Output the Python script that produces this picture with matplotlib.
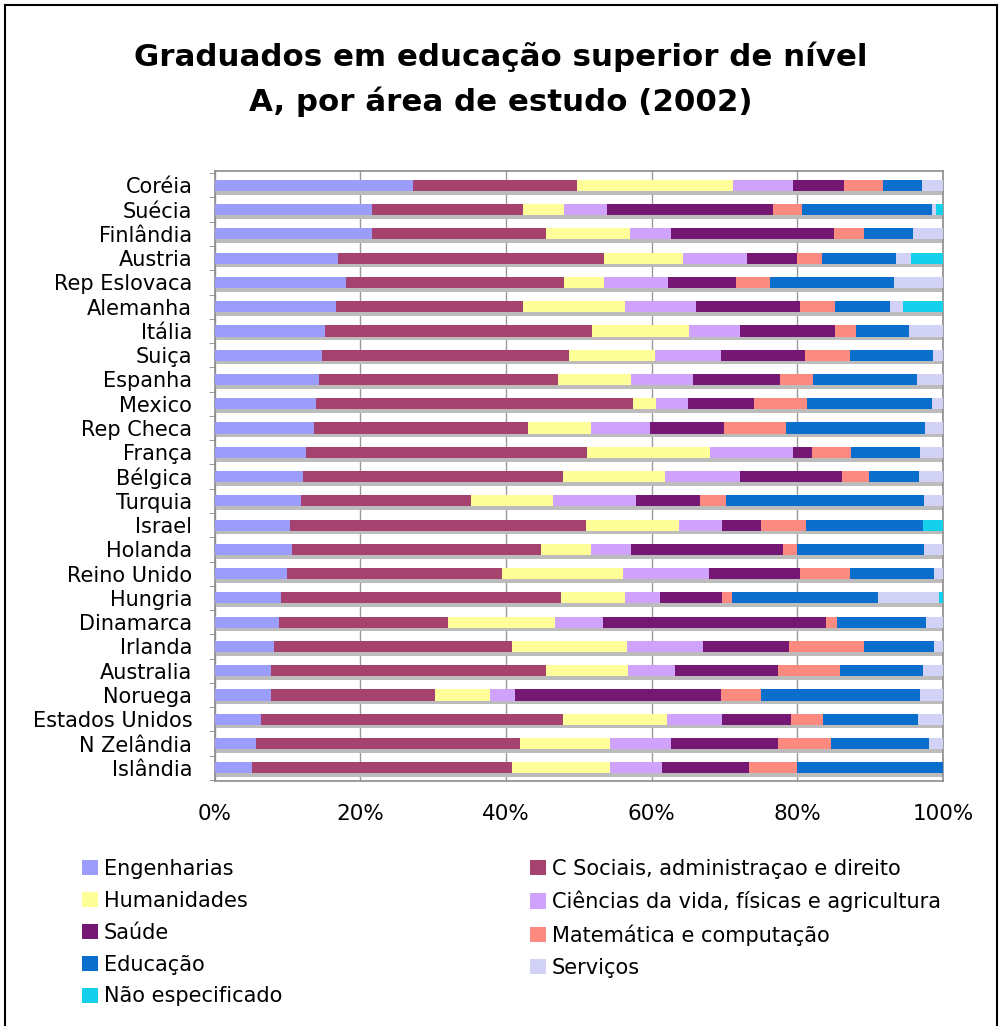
import numpy as np
import matplotlib
matplotlib.use("Agg")
import matplotlib.pyplot as plt
from matplotlib.patches import Patch
from matplotlib.lines import Line2D

countries = ["Coréia", "Suécia", "Finlândia", "Austria", "Rep Eslovaca", "Alemanha",
             "Itália", "Suiça", "Espanha", "Mexico", "Rep Checa", "França", "Bélgica",
             "Turquia", "Israel", "Holanda", "Reino Unido", "Hungria", "Dinamarca",
             "Irlanda", "Australia", "Noruega", "Estados Unidos", "N Zelândia", "Islândia"]

categories = ["Engenharias", "C Sociais, administraçao e direito", "Humanidades",
              "Ciências da vida, físicas e agricultura", "Saúde", "Matemática e computação",
              "Educação", "Serviços", "Não especificado"]

engenharias = [27.3, 21.6, 21.6, 17.0, 18.0, 16.7, 15.2, 14.7, 14.3, 13.9, 13.6, 12.6, 12.1,
               11.9, 10.4, 10.7, 10.0, 9.1, 8.9, 8.2, 7.8, 7.8, 6.4, 5.7, 5.2]
c_sociais = [22.4, 20.7, 23.9, 36.5, 30.0, 25.6, 36.6, 33.9, 32.8, 43.6, 29.5, 38.6, 35.7,
             23.3, 40.6, 34.1, 29.5, 38.5, 23.2, 32.6, 37.7, 22.5, 41.4, 36.3, 35.6]
humanidades = [21.5, 5.7, 11.5, 10.8, 5.5, 14.1, 13.3, 11.8, 10.1, 3.1, 8.6, 16.8, 14.0,
               11.3, 12.8, 6.9, 16.6, 8.7, 14.6, 15.8, 11.2, 7.5, 14.3, 12.3, 13.5]
ciencias = [8.2, 5.9, 5.7, 8.8, 8.7, 9.7, 7.0, 9.1, 8.5, 4.4, 8.1, 11.4, 10.3,
            11.4, 5.9, 5.5, 11.8, 4.9, 6.6, 10.5, 6.5, 3.5, 7.6, 8.4, 7.1]
saude = [7.0, 22.7, 22.3, 6.9, 9.4, 14.3, 13.1, 11.5, 11.9, 9.1, 10.2, 2.6, 14.0,
         8.7, 5.3, 20.9, 12.5, 8.5, 30.6, 11.8, 14.2, 28.2, 9.4, 14.6, 12.0]
matematica = [5.3, 4.1, 4.1, 3.4, 4.6, 4.8, 2.8, 6.3, 4.5, 7.2, 8.5, 5.4, 3.8,
              3.6, 6.2, 1.9, 6.9, 1.4, 1.6, 10.2, 8.5, 5.5, 4.4, 7.3, 6.5]
educacao = [5.4, 17.8, 6.8, 10.2, 17.1, 7.5, 7.4, 11.3, 14.3, 17.2, 19.0, 9.5, 6.8,
            27.2, 16.0, 17.4, 11.4, 20.0, 12.2, 9.7, 11.3, 21.8, 13.1, 13.5, 20.1]
servicos = [2.9, 0.5, 4.1, 2.0, 6.7, 1.8, 4.6, 1.4, 3.6, 1.5, 2.5, 3.1, 3.3,
            2.6, 0.0, 2.6, 1.3, 8.4, 2.3, 1.2, 2.8, 3.2, 3.4, 1.9, 0.0]
nao_especificado = [0.0, 1.0, 0.0, 4.4, 0.0, 5.5, 0.0, 0.0, 0.0, 0.0, 0.0, 0.0, 0.0,
                    0.0, 2.8, 0.0, 0.0, 0.5, 0.0, 0.0, 0.0, 0.0, 0.0, 0.0, 0.0]

series = [engenharias, c_sociais, humanidades, ciencias, saude, matematica,
          educacao, servicos, nao_especificado]
colors = ["#9c9cfa", "#a5426d", "#ffff99", "#cfa3fb", "#751873", "#fd8a80",
          "#0a6ecc", "#d2d2f7", "#14d0ea"]

xticks = [0, 20, 40, 60, 80, 100]
xticklabels = ["0%", "20%", "40%", "60%", "80%", "100%"]

data = np.array(series, dtype=float)
totals = data.sum(axis=0)
pct = data / totals * 100.0

fig = plt.figure(figsize=(10.02, 10.26), dpi=100)
fig.patch.set_facecolor("white")
ax = fig.add_axes([0.2141, 0.2391, 0.9411 - 0.2141, 0.8336 - 0.2391])

y = np.arange(len(countries))
bh = 0.46
# shadow behind each bar
ax.barh(y + 0.15, pct.sum(axis=0), height=bh, left=0, color="#bcbcbc",
        edgecolor="none", zorder=2)
left = np.zeros(len(countries))
for vals, col, name in zip(pct, colors, categories):
    ax.barh(y, vals, height=bh, left=left, color=col, edgecolor="none",
            zorder=3, label=name)
    left += vals

ax.set_xlim(0, 100)
ax.set_ylim(len(countries) - 0.47, -0.6)
ax.set_xticks(xticks)
ax.set_xticklabels(xticklabels, fontsize=15.5)
ax.set_yticks(y)
ax.set_yticklabels(countries, fontsize=15)
ax.tick_params(axis="y", length=0, pad=16)
ax.set_yticks(np.arange(len(countries) + 1) - 0.5, minor=True)
ax.tick_params(axis="y", which="minor", length=4, color="#888888")
ax.tick_params(axis="x", length=0, pad=17)
ax.grid(axis="x", color="#9a9a9a", linewidth=1.0, zorder=1)
for s in ax.spines.values():
    s.set_color("#8c8c8c")
    s.set_linewidth(1.2)

fig.text(0.5, 1 - 57 / 1026, "Graduados em educação superior de nível",
         ha="center", va="center", fontsize=22.2, fontweight="bold")
fig.text(0.5, 1 - 102 / 1026, "A, por área de estudo (2002)",
         ha="center", va="center", fontsize=22.2, fontweight="bold")

handles = [Patch(facecolor=c, edgecolor="none", label=n) for c, n in zip(colors, categories)]
order = [0, 2, 4, 6, 8, 1, 3, 5, 7]
fig.legend([handles[i] for i in order], [categories[i] for i in order],
           ncol=2, loc="upper left", bbox_to_anchor=(82 / 1002, 1 - 859 / 1026),
           frameon=False, fontsize=15, handlelength=0.75, handleheight=0.75,
           handletextpad=0.3, labelspacing=0.57, columnspacing=11.9,
           borderaxespad=0, borderpad=0)

# outer frame
for xs, ys in [([5 / 1002, 5 / 1002], [0, 1 - 5 / 1026]),
               ([5 / 1002, 997 / 1002], [1 - 5 / 1026, 1 - 5 / 1026]),
               ([997 / 1002, 997 / 1002], [0, 1 - 5 / 1026])]:
    fig.add_artist(Line2D(xs, ys, color="black", linewidth=1.5, transform=fig.transFigure))

fig.savefig("out.png", dpi=100, facecolor="white")
